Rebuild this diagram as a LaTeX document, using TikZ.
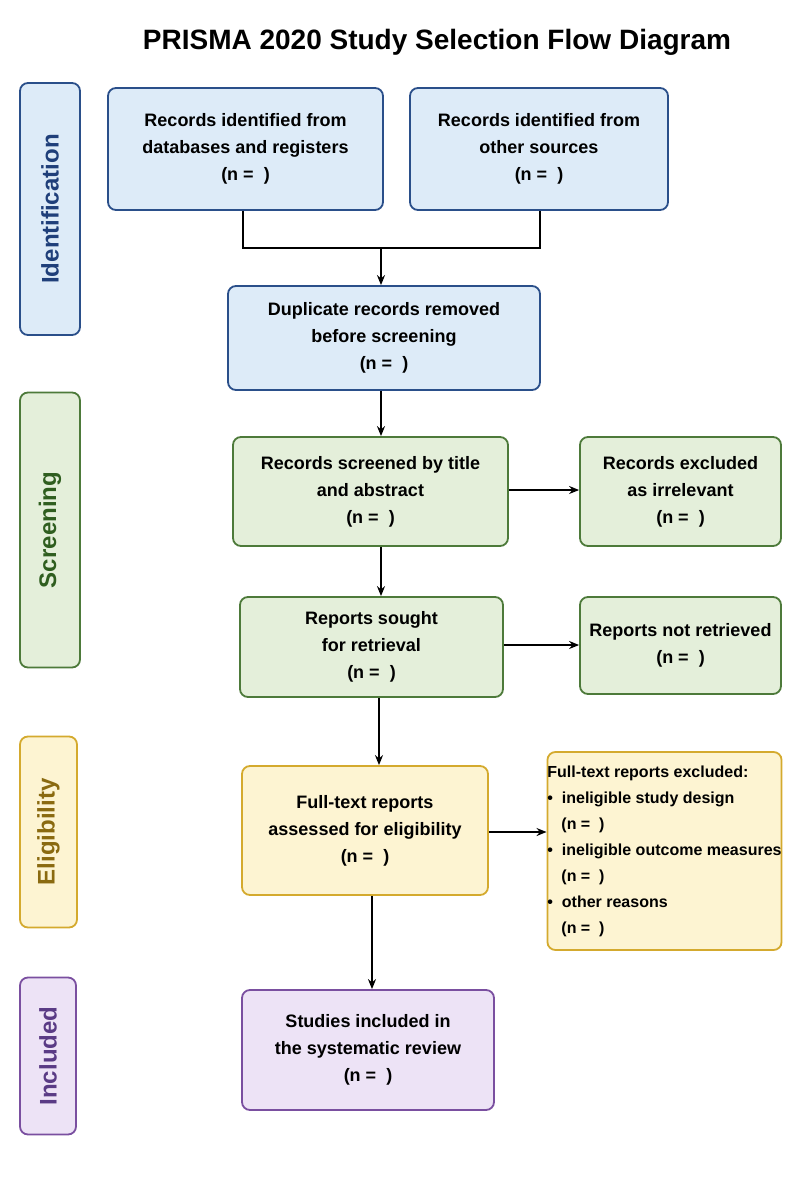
\documentclass[tikz,border=0pt]{standalone}
\usepackage{fontspec}
\setmainfont{Liberation Sans}
\usetikzlibrary{arrows.meta}
\definecolor{bfill}{HTML}{DDEBF8}\definecolor{bdraw}{HTML}{2A4F8A}\definecolor{btext}{HTML}{1F3F7A}
\definecolor{gfill}{HTML}{E4EFDA}\definecolor{gdraw}{HTML}{4D7A3A}\definecolor{gtext}{HTML}{2F5E1F}
\definecolor{yfill}{HTML}{FDF4D2}\definecolor{ydraw}{HTML}{D4AA2E}\definecolor{ytext}{HTML}{8A6A10}
\definecolor{pfill}{HTML}{EDE3F6}\definecolor{pdraw}{HTML}{7A4FA0}\definecolor{ptext}{HTML}{5A3B85}
\begin{document}
\begin{tikzpicture}[x=1pt,y=-1pt,
 box/.style={rounded corners=8pt,line width=1.8pt,align=center,inner sep=0pt,
   font=\fontsize{18}{27}\selectfont\bfseries},
 side/.style={rounded corners=8pt,line width=1.8pt,inner sep=0pt,
   font=\fontsize{24}{28}\selectfont\bfseries},
 arr/.style={line width=1.6pt,-{Stealth[length=10pt,width=8pt]}},
 ln/.style={line width=1.6pt}]
\useasboundingbox (0,0) rectangle (800,1200);
\node[font=\fontsize{28}{32}\selectfont\bfseries] (title) at (437,42) {PRISMA 2020 Study Selection Flow Diagram};
% side labels
\node[side,draw=bdraw,fill=bfill,minimum width=60pt,minimum height=252pt] (s1) at (50,209) {};
\node[rotate=90,font=\fontsize{24}{28}\selectfont\bfseries,text=btext] at (s1) {Identification};
\node[side,draw=gdraw,fill=gfill,minimum width=60pt,minimum height=275pt] (s2) at (50,530) {};
\node[rotate=90,font=\fontsize{24}{28}\selectfont\bfseries,text=gtext] at (s2) {Screening};
\node[side,draw=ydraw,fill=yfill,minimum width=57pt,minimum height=191pt] (s3) at (48.5,832) {};
\node[rotate=90,font=\fontsize{24}{28}\selectfont\bfseries,text=ytext] at (s3) {Eligibility};
\node[side,draw=pdraw,fill=pfill,minimum width=56pt,minimum height=157pt] (s4) at (48,1056) {};
\node[rotate=90,font=\fontsize{24}{28}\selectfont\bfseries,text=ptext] at (s4) {Included};
% boxes
\node[box,draw=bdraw,fill=bfill,minimum width=275pt,minimum height=122pt] (A) at (245.5,149) {Records identified from\\databases and registers\\(n = \ )};
\node[box,draw=bdraw,fill=bfill,minimum width=258pt,minimum height=122pt] (B) at (539,149) {Records identified from\\other sources\\(n = \ )};
\node[box,draw=bdraw,fill=bfill,minimum width=312pt,minimum height=104pt] (C) at (384,338) {Duplicate records removed\\before screening\\(n = \ )};
\node[box,draw=gdraw,fill=gfill,minimum width=275pt,minimum height=109pt] (D) at (370.5,491.5) {Records screened by title\\and abstract\\(n = \ )};
\node[box,draw=gdraw,fill=gfill,minimum width=201pt,minimum height=109pt] (E) at (680.5,491.5) {Records excluded\\as irrelevant\\(n = \ )};
\node[box,draw=gdraw,fill=gfill,minimum width=263pt,minimum height=100pt] (F) at (371.5,647) {Reports sought\\for retrieval\\(n = \ )};
\node[box,draw=gdraw,fill=gfill,minimum width=201pt,minimum height=97pt] (G) at (680.5,645.5) {Reports not retrieved\\(n = \ )};
\node[box,draw=ydraw,fill=yfill,minimum width=246pt,minimum height=129pt] (H) at (365,830.5) {Full-text reports\\assessed for eligibility\\(n = \ )};
\node[box,draw=ydraw,fill=yfill,minimum width=233pt,minimum height=198pt,align=left,
  font=\fontsize{16}{26}\selectfont\bfseries] (I) at (664.5,851) {Full-text reports excluded:\\
\textbullet\ \ ineligible study design\\ \hspace{14pt}(n = \ )\\
\textbullet\ \ ineligible outcome measures\\ \hspace{14pt}(n = \ )\\
\textbullet\ \ other reasons\\ \hspace{14pt}(n = \ )};
\node[box,draw=pdraw,fill=pfill,minimum width=252pt,minimum height=120pt] (J) at (368,1050) {Studies included in\\the systematic review\\(n = \ )};
% connectors
\coordinate (m) at (381,248);
\draw[ln] (A.south -| 243,0) |- (m);
\draw[ln] (B.south -| 540,0) |- (m);
\draw[arr] (m) -- (C.north -| m);
\draw[arr] (C.south -| m) -- (D.north -| m);
\draw[arr] (D.east |- 0,490) -- (E.west |- 0,490);
\draw[arr] (D.south -| m) -- (F.north -| m);
\draw[arr] (F.east |- 0,645) -- (G.west |- 0,645);
\draw[arr] (F.south -| 379,0) -- (H.north -| 379,0);
\draw[arr] (H.east |- 0,832) -- (I.west |- 0,832);
\draw[arr] (H.south -| 372,0) -- (J.north -| 372,0);
\end{tikzpicture}
\end{document}
